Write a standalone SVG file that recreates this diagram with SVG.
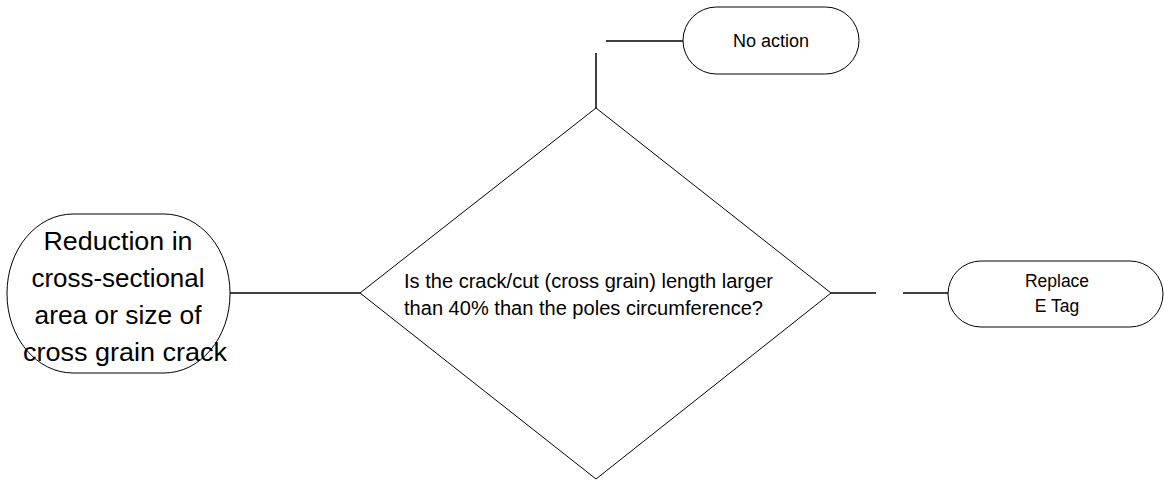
<svg xmlns="http://www.w3.org/2000/svg" width="1164" height="480" viewBox="0 0 1164 480">
<style>
.shape{fill:#ffffff;stroke:#000000;stroke-width:1}
.conn{fill:none;stroke:#000000;stroke-width:1.5}
.t{font-family:"Liberation Sans",Arial,sans-serif;fill:#000000}
.c{text-anchor:middle}
</style>
<rect x="0" y="0" width="1164" height="480" fill="#ffffff"/>
<g id="connectors">
<line class="conn" x1="230" y1="293" x2="360" y2="293"/>
<line class="conn" x1="596" y1="108" x2="596" y2="53"/>
<line class="conn" x1="606" y1="41" x2="683" y2="41"/>
<line class="conn" x1="831" y1="293" x2="876" y2="293"/>
<line class="conn" x1="903" y1="293" x2="948" y2="293"/>
</g>
<g id="node-start">
<rect class="shape" x="7" y="214" width="223" height="159" rx="66" ry="79"/>
<text class="t c" font-size="26" x="118" y="250" textLength="149" lengthAdjust="spacingAndGlyphs">Reduction in</text>
<text class="t c" font-size="26" x="118" y="287" textLength="173" lengthAdjust="spacingAndGlyphs">cross-sectional</text>
<text class="t c" font-size="26" x="118" y="324" textLength="167" lengthAdjust="spacingAndGlyphs">area or size of</text>
<text class="t c" font-size="26" x="125" y="361" textLength="204" lengthAdjust="spacingAndGlyphs">cross grain crack</text>
</g>
<g id="node-decision">
<polygon class="shape" points="596,108 831,293 596,479 360,293"/>
<text class="t" font-size="19.5" x="404" y="288" textLength="369" lengthAdjust="spacingAndGlyphs">Is the crack/cut (cross grain) length larger</text>
<text class="t" font-size="19.5" x="404" y="315" textLength="359" lengthAdjust="spacingAndGlyphs">than 40% than the poles circumference?</text>
</g>
<g id="node-noaction">
<rect class="shape" x="683" y="7" width="176" height="67" rx="33.5" ry="33.5"/>
<text class="t c" font-size="18" x="771" y="47">No action</text>
</g>
<g id="node-replace">
<rect class="shape" x="948" y="261" width="215" height="66" rx="33" ry="33"/>
<text class="t c" font-size="17.5" x="1057" y="287">Replace</text>
<text class="t c" font-size="17.5" x="1057" y="312">E Tag</text>
</g>
</svg>
